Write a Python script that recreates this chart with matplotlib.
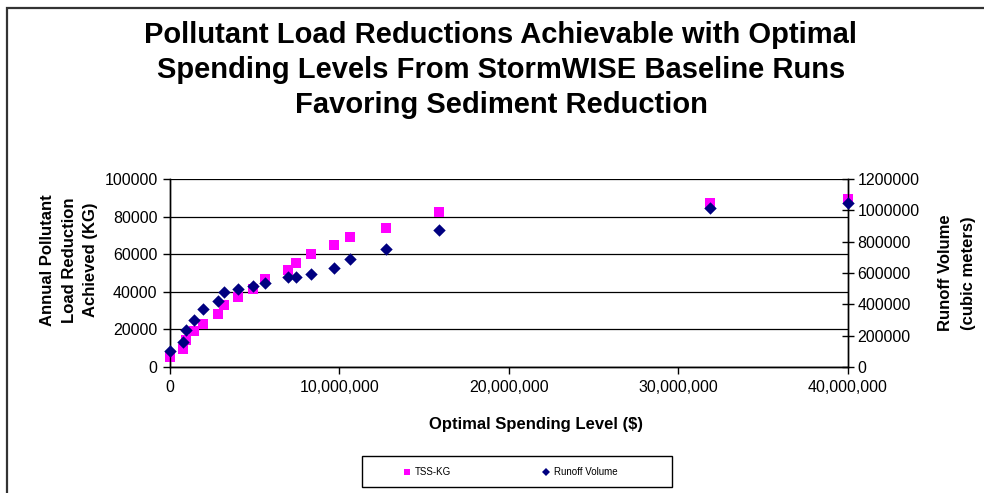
"""Pollutant load reduction vs optimal spending level (StormWISE baseline runs)."""

import matplotlib

matplotlib.use("Agg")

import matplotlib.pyplot as plt
from matplotlib.lines import Line2D
from matplotlib.patches import Rectangle
from matplotlib.ticker import FuncFormatter, MultipleLocator

plt.rcParams["font.family"] = ["Liberation Sans", "DejaVu Sans"]

# Optimal spending level ($) for each baseline run
SPENDING = [
    0, 770000, 960000, 1400000, 1930000, 2820000, 3210000, 4000000,
    4900000, 5610000, 6960000, 7410000, 8320000, 9660000, 10640000,
    12720000, 15870000, 31830000, 40000000,
]
# Annual TSS load reduction (kg)
TSS_KG = [
    5300, 9500, 14500, 18900, 23000, 28200, 33000, 37500,
    41500, 46800, 51400, 55300, 60100, 64900, 69100,
    73700, 82600, 87500, 89500,
]
# Runoff volume reduction (cubic meters)
RUNOFF_M3 = [
    99000, 157000, 234000, 302000, 370000, 419000, 476000, 498000,
    517000, 534000, 572000, 572000, 591000, 629000, 687000,
    755000, 872000, 1017000, 1044000,
]

TITLE = ("Pollutant Load Reductions Achievable with Optimal\n"
         "Spending Levels From StormWISE Baseline Runs\n"
         "Favoring Sediment Reduction")

W, H = 984, 493
fig = plt.figure(figsize=(W / 100, H / 100), dpi=100)


def px_box(x0, y0, x1, y1):
    """Pixel box (top-left origin) -> figure fraction [l, b, w, h]."""
    return [x0 / W, 1 - y1 / H, (x1 - x0) / W, (y1 - y0) / H]


# chart area border (left and top edges visible)
fig.add_artist(Rectangle((7 / W, -0.2), 1.2, 1.2 - 8 / H, transform=fig.transFigure,
                         fill=False, edgecolor="#333333", linewidth=1.6))

ax = fig.add_axes(px_box(170, 179, 848, 367))
ax2 = ax.twinx()

ax.scatter(SPENDING, TSS_KG, marker="s", s=44, color="#FF00FF",
           linewidths=0, zorder=3, clip_on=False)
ax2.scatter(SPENDING, RUNOFF_M3, marker="D", s=40, color="#000080",
            linewidths=0, zorder=3, clip_on=False)

ax.set_xlim(0, 40000000)
ax.set_ylim(0, 100000)
ax2.set_ylim(0, 1200000)

ax.xaxis.set_major_locator(MultipleLocator(10000000))
ax.xaxis.set_major_formatter(FuncFormatter(lambda v, _: f"{v:,.0f}"))
ax.yaxis.set_major_locator(MultipleLocator(20000))
ax.yaxis.set_major_formatter(FuncFormatter(lambda v, _: f"{v:.0f}"))
ax2.yaxis.set_major_locator(MultipleLocator(200000))
ax2.yaxis.set_major_formatter(FuncFormatter(lambda v, _: f"{v:.0f}"))

ax.grid(axis="y", color="black", linewidth=0.9)
ax.set_axisbelow(True)

for a in (ax, ax2):
    a.spines["top"].set_visible(False)
    for s in ("left", "right", "bottom"):
        a.spines[s].set_linewidth(1.0)
ax.tick_params(axis="both", direction="out", length=5, width=1.0,
               labelsize=11.5, pad=4)
ax2.tick_params(axis="y", direction="inout", length=8, width=1.0,
                labelsize=11.5, pad=3)

fig.text(536 / W, 1 - 425 / H, "Optimal Spending Level ($)", ha="center",
         va="center", fontsize=12, fontweight="bold")
fig.text(69 / W, 1 - 260 / H, "Annual Pollutant\nLoad Reduction\nAchieved (KG)",
         ha="center", va="center", rotation=90, fontsize=12,
         fontweight="bold", linespacing=1.55)
fig.text(957 / W, 1 - 273 / H, "Runoff Volume\n(cubic meters)", ha="center",
         va="center", rotation=90, fontsize=12, fontweight="bold",
         linespacing=1.6)

fig.text(501 / W, 1 - 70 / H, TITLE, ha="center", va="center", fontsize=21,
         fontweight="bold", linespacing=1.3)

# legend box below the plot
fig.add_artist(Rectangle((362 / W, 1 - 487 / H), 310 / W, 31 / H,
                         transform=fig.transFigure, fill=False,
                         edgecolor="black", linewidth=1.0))
handles = [
    Line2D([], [], marker="s", linestyle="none", color="#FF00FF",
           markersize=5, markeredgewidth=0, label="TSS-KG"),
    Line2D([], [], marker="D", linestyle="none", color="#000080",
           markersize=4, markeredgewidth=0, label="Runoff Volume"),
]
fig.legend(handles=handles, loc="center left",
           bbox_to_anchor=(402 / W, 1 - 472 / H), ncol=2, frameon=False,
           fontsize=7, handlelength=1.0, handletextpad=0.35,
           columnspacing=9.2, borderpad=0, borderaxespad=0)

fig.savefig("out.png", dpi=100)
